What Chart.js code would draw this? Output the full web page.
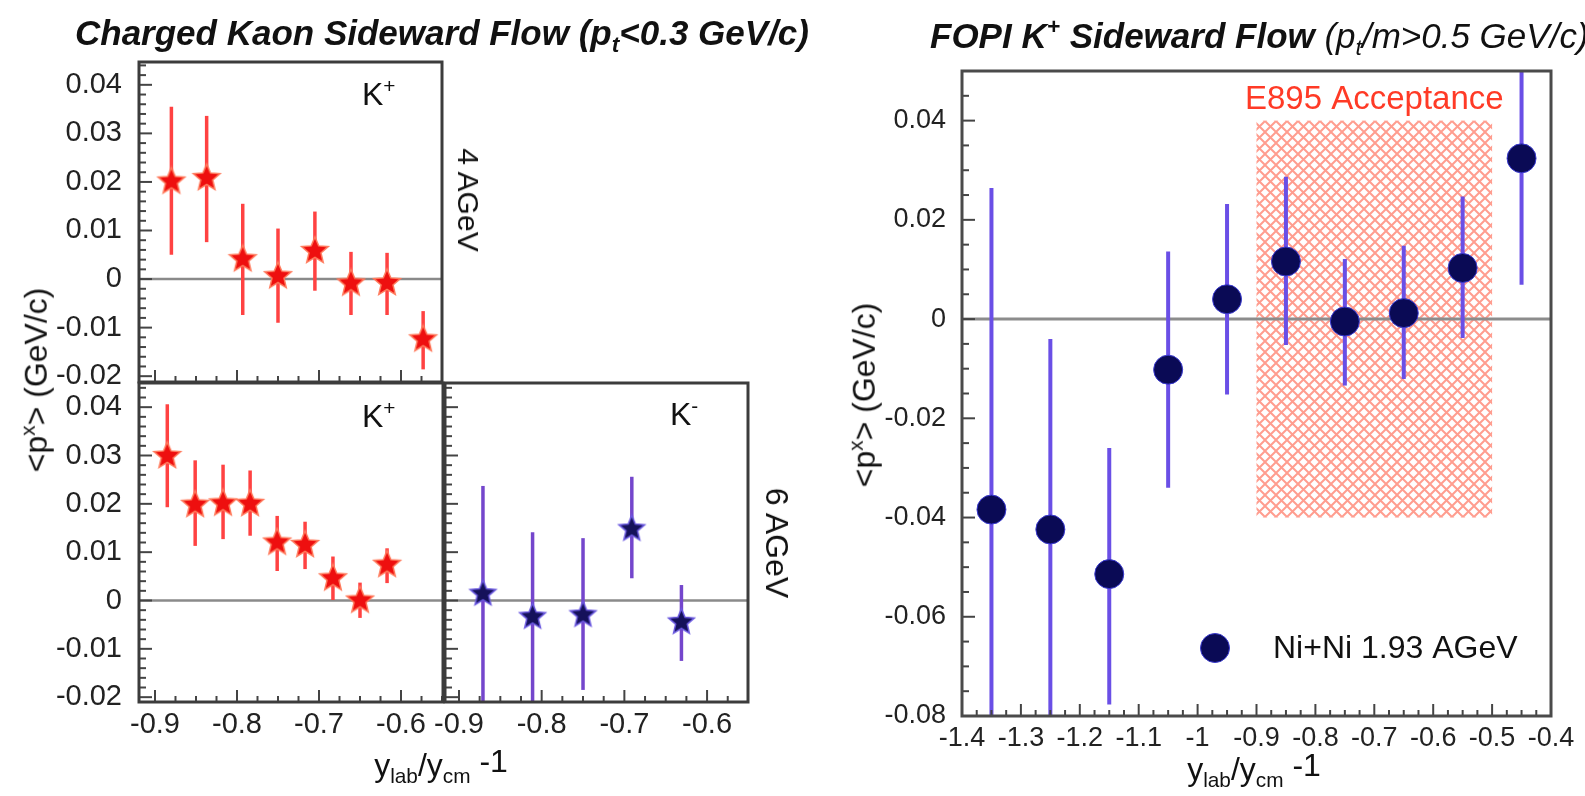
<!DOCTYPE html>
<html>
<head>
<meta charset="utf-8">
<title>Kaon Sideward Flow</title>
<script src="https://cdn.jsdelivr.net/npm/chart.js"></script>
<style>
  body { margin: 0; background: #fff; }
  #page { position: relative; width: 1585px; height: 796px; overflow: hidden; font-family: "Liberation Sans", Arial, sans-serif; color: #111; }
  #page canvas { position: absolute; left: 0; top: 0; }
  .txt { position: absolute; white-space: nowrap; line-height: 1; }
  .title { font-size: 35px; font-weight: bold; font-style: italic; }
  .rot { transform: translate(-50%, -50%) rotate(-90deg); }
  .rotcw { transform: translate(-50%, -50%) rotate(90deg); }
  .ctr { transform: translate(-50%, -50%); }
  sub { font-size: 65%; vertical-align: -0.3em; }
  sup { font-size: 65%; vertical-align: 0.6em; }
</style>
</head>
<body>
<div id="page">
  <canvas id="tl" width="1585" height="796"></canvas>
  <canvas id="bl" width="1585" height="796"></canvas>
  <canvas id="bm" width="1585" height="796"></canvas>
  <canvas id="fopi" width="1585" height="796"></canvas>

  <div class="txt title" style="left:75px; top:15px;">Charged Kaon Sideward Flow (p<sub>t</sub>&lt;0.3 GeV/c)</div>
  <div class="txt title" style="left:930px; top:15px;">FOPI K<sup>+</sup> Sideward Flow <span style="font-weight:normal">(p<sub>t</sub>/m&gt;0.5 GeV/c)</span></div>

  <div class="txt" style="left:362px; top:76px; font-size:32px;">K<sup>+</sup></div>
  <div class="txt" style="left:362px; top:398px; font-size:32px;">K<sup>+</sup></div>
  <div class="txt" style="left:670px; top:396px; font-size:32px;">K<sup>-</sup></div>

  <div class="txt rotcw" style="left:468px; top:200px; font-size:30px;">4 AGeV</div>
  <div class="txt rotcw" style="left:777px; top:543px; font-size:32px;">6 AGeV</div>

  <div class="txt rot" style="left:35px; top:380px; font-size:32px;">&lt;p<sup>x</sup>&gt; (GeV/c)</div>
  <div class="txt rot" style="left:863px; top:395px; font-size:32px;">&lt;p<sup>x</sup>&gt; (GeV/c)</div>

  <div class="txt ctr" style="left:441px; top:768px; font-size:32px;">y<sub>lab</sub>/y<sub>cm</sub> <span style="position:relative; top:-4px">-1</span></div>
  <div class="txt ctr" style="left:1254px; top:772px; font-size:32px;">y<sub>lab</sub>/y<sub>cm</sub> <span style="position:relative; top:-4px">-1</span></div>
</div>

<script>
// ---- data ----
const leftXTicks = [-0.9, -0.8, -0.7, -0.6];
const leftYTicks = [-0.02, -0.01, 0, 0.01, 0.02, 0.03, 0.04];
const fopiXTicks = [-1.4, -1.3, -1.2, -1.1, -1.0, -0.9, -0.8, -0.7, -0.6, -0.5, -0.4];
const fopiYTicks = [-0.08, -0.06, -0.04, -0.02, 0, 0.02, 0.04];

// K+ at 4 AGeV
const k4X  = [-0.880, -0.837, -0.793, -0.750, -0.705, -0.661, -0.617, -0.573];
const k4Y  = [0.0201, 0.0208, 0.0041, 0.0006, 0.0058, -0.0009, -0.0008, -0.0124];
const k4Hi = [0.0355, 0.0336, 0.0155, 0.0104, 0.0139, 0.0056, 0.0054, -0.0066];
const k4Lo = [0.0050, 0.0076, -0.0074, -0.0090, -0.0024, -0.0074, -0.0074, -0.0186];

// K+ at 6 AGeV
const k6pX  = [-0.885, -0.851, -0.817, -0.784, -0.751, -0.717, -0.683, -0.650, -0.617];
const k6pY  = [0.0299, 0.0198, 0.0201, 0.0200, 0.0120, 0.0115, 0.0046, 0.0000, 0.0074];
const k6pHi = [0.0406, 0.0290, 0.0281, 0.0269, 0.0175, 0.0163, 0.0091, 0.0037, 0.0108];
const k6pLo = [0.0193, 0.0113, 0.0127, 0.0134, 0.0061, 0.0065, 0.0001, -0.0036, 0.0036];

// K- at 6 AGeV
const k6mX  = [-0.871, -0.811, -0.750, -0.691, -0.631];
const k6mY  = [0.0014, -0.0034, -0.0030, 0.0148, -0.0045];
const k6mHi = [0.0237, 0.0141, 0.0129, 0.0256, 0.0032];
const k6mLo = [-0.0250, -0.0250, -0.0185, 0.0046, -0.0125];

// FOPI Ni+Ni 1.93 AGeV
const fopiX  = [-1.35, -1.25, -1.15, -1.05, -0.95, -0.85, -0.75, -0.65, -0.55, -0.45];
const fopiY  = [-0.0384, -0.0424, -0.0514, -0.0102, 0.0040, 0.0116, -0.0005, 0.0012, 0.0103, 0.0324];
const fopiHi = [0.0264, -0.0040, -0.0260, 0.0136, 0.0232, 0.0287, 0.0121, 0.0148, 0.0247, 0.0550];
const fopiLo = [-0.0900, -0.0900, -0.0777, -0.0340, -0.0152, -0.0052, -0.0134, -0.0121, -0.0038, 0.0069];

// E895 acceptance window
const accX = [-0.9, -0.5];
const accY = [-0.04, 0.04];

const W = 1585, H = 796;
const FONT = '"Liberation Sans", Arial, sans-serif';

function starImage(r, fill, stroke) {
  const s = Math.ceil(2 * r + 4);
  const c = document.createElement('canvas');
  c.width = c.height = s;
  const g = c.getContext('2d');
  g.translate(s / 2, s / 2);
  g.beginPath();
  for (let i = 0; i < 10; i++) {
    const a = -Math.PI / 2 + i * Math.PI / 5;
    const rr = i % 2 ? r * 0.45 : r;
    g.lineTo(rr * Math.cos(a), rr * Math.sin(a));
  }
  g.closePath();
  g.fillStyle = fill;
  g.fill();
  g.lineWidth = 1.5;
  g.strokeStyle = stroke;
  g.stroke();
  return c;
}

const redStar = starImage(14, '#ee0f0f', '#ff7a5c');
const navyStar = starImage(13.5, '#15115a', '#6a58e0');

function pts(xs, ys) {
  return xs.map((x, i) => ({ x: x, y: ys[i] }));
}

// frame, zero line, inward ticks, error bars, acceptance box
const framePlugin = {
  id: 'frame',
  beforeDatasetsDraw(chart, args, o) {
    const { ctx, chartArea: a, scales: { x, y } } = chart;
    ctx.save();
    ctx.beginPath();
    ctx.rect(a.left, a.top, a.width, a.height);
    ctx.clip();

    if (o.box) {
      const pc = document.createElement('canvas');
      pc.width = pc.height = 11;
      const g = pc.getContext('2d');
      g.strokeStyle = 'rgba(255,115,95,0.7)';
      g.lineWidth = 2;
      g.beginPath();
      g.moveTo(0, 0); g.lineTo(11, 11);
      g.moveTo(11, 0); g.lineTo(0, 11);
      g.stroke();
      const x0 = x.getPixelForValue(o.box.x[0]), x1 = x.getPixelForValue(o.box.x[1]);
      const y0 = y.getPixelForValue(o.box.y[1]), y1 = y.getPixelForValue(o.box.y[0]);
      ctx.fillStyle = ctx.createPattern(pc, 'repeat');
      ctx.fillRect(x0, y0, x1 - x0, y1 - y0);
    }

    // zero line
    const y0 = y.getPixelForValue(0);
    ctx.strokeStyle = o.zeroColor;
    ctx.lineWidth = o.zeroWidth;
    ctx.beginPath();
    ctx.moveTo(a.left, y0);
    ctx.lineTo(a.right, y0);
    ctx.stroke();

    // error bars
    chart.data.datasets.forEach(ds => {
      if (!ds.errHi) return;
      ctx.strokeStyle = ds.errColor;
      ctx.lineWidth = ds.errWidth;
      ds.data.forEach((p, i) => {
        const px = x.getPixelForValue(p.x);
        ctx.beginPath();
        ctx.moveTo(px, y.getPixelForValue(ds.errHi[i]));
        ctx.lineTo(px, y.getPixelForValue(ds.errLo[i]));
        ctx.stroke();
      });
    });
    ctx.restore();
  },
  afterDatasetsDraw(chart, args, o) {
    const { ctx, chartArea: a, scales: { x, y } } = chart;
    ctx.save();
    // inward ticks
    ctx.strokeStyle = o.tickColor;
    ctx.lineWidth = 2;
    const eps = 1e-6;
    for (let v = Math.ceil(y.min / o.yMinor - eps) * o.yMinor; v <= y.max + eps; v += o.yMinor) {
      const major = Math.abs(v / o.yMajor - Math.round(v / o.yMajor)) < 1e-4;
      const py = y.getPixelForValue(v);
      ctx.beginPath();
      ctx.moveTo(a.left, py);
      ctx.lineTo(a.left + (major ? 13 : 7), py);
      ctx.stroke();
    }
    for (let v = Math.ceil(x.min / o.xMinor - eps) * o.xMinor; v <= x.max + eps; v += o.xMinor) {
      const major = Math.abs(v / o.xMajor - Math.round(v / o.xMajor)) < 1e-4;
      const px = x.getPixelForValue(v);
      ctx.beginPath();
      ctx.moveTo(px, a.bottom);
      ctx.lineTo(px, a.bottom - (major ? 12 : 6));
      ctx.stroke();
    }
    // frame
    ctx.strokeStyle = o.frameColor;
    ctx.lineWidth = o.frameWidth;
    ctx.strokeRect(a.left, a.top, a.width, a.height);

    // acceptance label
    if (o.box) {
      ctx.fillStyle = '#ff3a26';
      ctx.font = '33px ' + FONT;
      ctx.textAlign = 'center';
      ctx.textBaseline = 'middle';
      const cx = x.getPixelForValue((o.box.x[0] + o.box.x[1]) / 2);
      ctx.fillText(o.box.label, cx, y.getPixelForValue(o.box.y[1]) - 21);
    }
    // in-plot legend
    if (o.legend) {
      const ds = chart.data.datasets[0];
      const lx = a.left + o.legend.dx, ly = a.top + o.legend.dy;
      ctx.beginPath();
      ctx.arc(lx, ly, ds.pointRadius, 0, Math.PI * 2);
      ctx.fillStyle = ds.pointBackgroundColor;
      ctx.fill();
      ctx.lineWidth = 1;
      ctx.strokeStyle = ds.pointBorderColor;
      ctx.stroke();
      ctx.fillStyle = '#111';
      ctx.font = '32px ' + FONT;
      ctx.textAlign = 'left';
      ctx.textBaseline = 'middle';
      ctx.fillText(ds.label, lx + 58, ly + 1);
    }
    ctx.restore();
  }
};

function fmt(v) {
  return String(+(+v).toFixed(3));
}

function makeChart(id, area, xr, yr, datasets, cfg) {
  const yW = 110, xH = 50;
  return new Chart(document.getElementById(id), {
    type: 'scatter',
    data: { datasets: datasets },
    options: {
      responsive: false,
      animation: false,
      devicePixelRatio: 1,
      layout: { padding: { left: area.l - yW, top: area.t, right: W - area.r, bottom: H - area.b - xH } },
      plugins: {
        legend: { display: false },
        tooltip: { enabled: false },
        frame: cfg.frame
      },
      scales: {
        x: {
          type: 'linear', min: xr[0], max: xr[1],
          grid: { display: false, drawTicks: false },
          border: { display: false },
          afterFit: s => { s.height = xH; },
          afterBuildTicks: s => { s.ticks = cfg.xTicks.map(v => ({ value: v })); },
          ticks: {
            display: cfg.xLabels, padding: 6, autoSkip: false, maxRotation: 0,
            color: '#222', font: { family: FONT, size: cfg.fontSize }, callback: fmt
          }
        },
        y: {
          type: 'linear', min: yr[0], max: yr[1],
          grid: { display: false, drawTicks: false },
          border: { display: false },
          afterFit: s => { s.width = yW; },
          afterBuildTicks: s => { s.ticks = cfg.yTicks.map(v => ({ value: v })); },
          ticks: {
            display: cfg.yLabels, padding: cfg.yPad, autoSkip: false,
            color: '#222', font: { family: FONT, size: cfg.fontSize }, callback: fmt
          }
        }
      }
    },
    plugins: [framePlugin]
  });
}

const leftFrame = {
  zeroColor: '#8a8a8a', zeroWidth: 2.5, frameColor: '#3c3c3c', frameWidth: 3, tickColor: '#444',
  xMinor: 0.025, xMajor: 0.1, yMinor: 0.002, yMajor: 0.01
};

function starSet(xs, ys, hi, lo, img, errColor) {
  return {
    data: pts(xs, ys), errHi: hi, errLo: lo, errColor: errColor, errWidth: 3.5,
    pointStyle: img, pointRadius: 14, showLine: false
  };
}

makeChart('tl', { l: 139, t: 62, r: 442, b: 382 }, [-0.9195, -0.5500], [-0.0212, 0.0447],
  [starSet(k4X, k4Y, k4Hi, k4Lo, redStar, '#ff4242')],
  { frame: leftFrame, xTicks: leftXTicks, yTicks: leftYTicks, xLabels: false, yLabels: true, yPad: 17, fontSize: 29 });

makeChart('bl', { l: 139, t: 383, r: 443, b: 702 }, [-0.9195, -0.5488], [-0.0210, 0.0450],
  [starSet(k6pX, k6pY, k6pHi, k6pLo, redStar, '#ff4242')],
  { frame: leftFrame, xTicks: leftXTicks, yTicks: leftYTicks, xLabels: true, yLabels: true, yPad: 17, fontSize: 29 });

makeChart('bm', { l: 445, t: 383, r: 748, b: 702 }, [-0.9169, -0.5505], [-0.0210, 0.0450],
  [starSet(k6mX, k6mY, k6mHi, k6mLo, navyStar, '#7446cc')],
  { frame: leftFrame, xTicks: leftXTicks, yTicks: leftYTicks, xLabels: true, yLabels: false, yPad: 17, fontSize: 29 });

makeChart('fopi', { l: 962, t: 71, r: 1551, b: 716 }, [-1.4, -0.4], [-0.08, 0.05],
  [{
    label: 'Ni+Ni 1.93 AGeV',
    data: pts(fopiX, fopiY), errHi: fopiHi, errLo: fopiLo, errColor: '#6a4fe6', errWidth: 4,
    pointStyle: 'circle', pointRadius: 14.5, pointBackgroundColor: '#0a0a55',
    pointBorderColor: '#3a3ad0', pointBorderWidth: 1, showLine: false
  }],
  {
    frame: {
      zeroColor: '#8c8c8c', zeroWidth: 3, frameColor: '#4a4a4a', frameWidth: 3, tickColor: '#444',
      xMinor: 0.025, xMajor: 0.1, yMinor: 0.005, yMajor: 0.02,
      box: { x: accX, y: accY, label: 'E895 Acceptance' },
      legend: { dx: 253, dy: 577 }
    },
    xTicks: fopiXTicks, yTicks: fopiYTicks, xLabels: true, yLabels: true, yPad: 16, fontSize: 27
  });
</script>
</body>
</html>
